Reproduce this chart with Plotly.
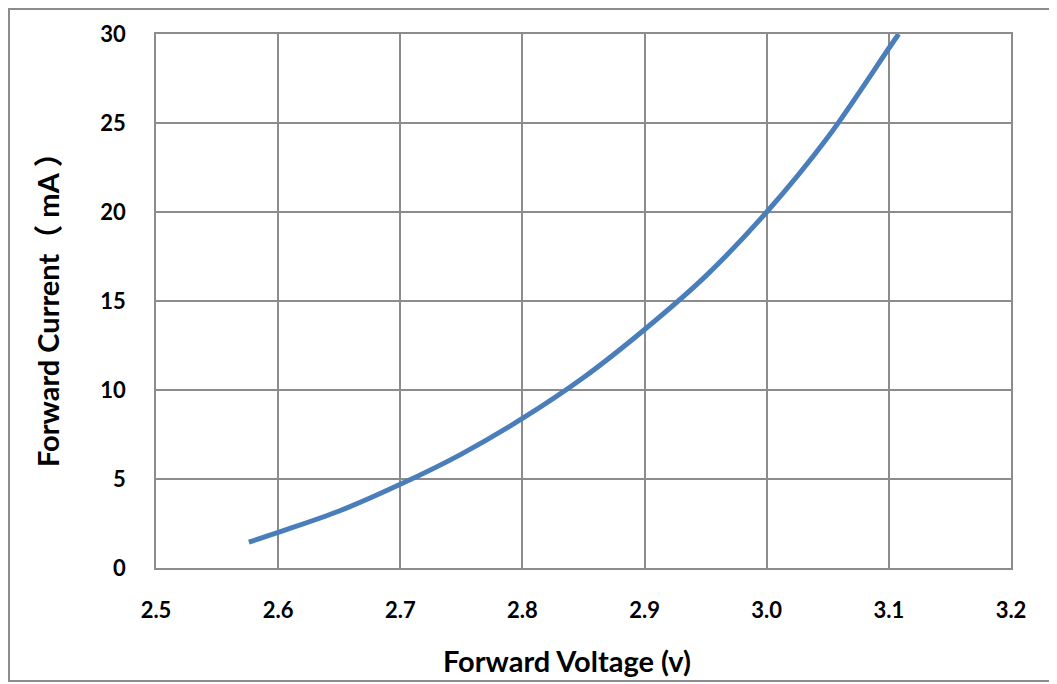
import plotly.graph_objects as go

voltage = [2.576, 2.6, 2.65, 2.7, 2.75, 2.8, 2.85, 2.9, 2.95, 3.0, 3.05, 3.1, 3.108]
current = [1.45, 2.0, 3.2, 4.7, 6.4, 8.4, 10.7, 13.4, 16.4, 20.0, 24.2, 29.2, 30.0]

x_ticks = [2.5, 2.6, 2.7, 2.8, 2.9, 3.0, 3.1, 3.2]
x_labels = ["2.5", "2.6", "2.7", "2.8", "2.9", "3.0", "3.1", "3.2"]
y_ticks = [0, 5, 10, 15, 20, 25, 30]

x_title = "Forward Voltage (v)"
y_title = "Forward Current（ mA ）"

GRID = "#8c8c8c"
FONT = "Lato, 'Noto Sans CJK SC', sans-serif"

# figure coords (page is offset by the 8px body margin)
W, H = 1049, 676
L, T, PW, PH = 148, 26, 855, 534

fig = go.Figure()
fig.add_trace(go.Scatter(
    x=voltage, y=current, mode="lines", line_shape="spline",
    line=dict(color="#4a7ebb", width=5), showlegend=False, hoverinfo="skip",
))

tickfont = dict(family=FONT, size=22, color="black", weight="bold")
fig.update_layout(
    width=W, height=H,
    margin=dict(l=L, r=W - L - PW, t=T, b=H - T - PH, pad=0),
    paper_bgcolor="white", plot_bgcolor="white",
    font=dict(family=FONT, size=22, color="black"),
    xaxis=dict(
        range=[2.5, 3.2], tickvals=x_ticks, ticktext=x_labels,
        showgrid=True, gridcolor=GRID, gridwidth=1.5,
        showline=True, linecolor=GRID, linewidth=1.5, mirror=True,
        zeroline=False, ticks="", ticklabelstandoff=22, tickfont=tickfont,
    ),
    yaxis=dict(
        range=[0, 30], tickvals=y_ticks,
        showgrid=True, gridcolor=GRID, gridwidth=1.5,
        showline=True, linecolor=GRID, linewidth=1.5, mirror=True,
        zeroline=False, ticks="", ticklabelstandoff=24, tickfont=tickfont,
    ),
    annotations=[
        dict(text=x_title, xref="paper", yref="paper", x=(559 - L) / PW, y=-(652 - (T + PH)) / PH,
             xanchor="center", yanchor="middle", showarrow=False,
             font=dict(family=FONT, size=29, color="black", weight="bold")),
        dict(text=y_title, xref="paper", yref="paper", x=(39 - L) / PW, y=((T + PH) - 295) / PH,
             xanchor="center", yanchor="middle", showarrow=False, textangle=-90,
             font=dict(family=FONT, size=29, color="black", weight="bold")),
    ],
    shapes=[
        dict(type="rect", xref="paper", yref="paper",
             x0=(1 - L) / PW, x1=(1042 - L) / PW,
             y0=-(673 - (T + PH)) / PH, y1=1 + (T - 1) / PH,
             line=dict(color="#8c8c8c", width=2), layer="below"),
    ],
)

fig.write_html("out.html")
